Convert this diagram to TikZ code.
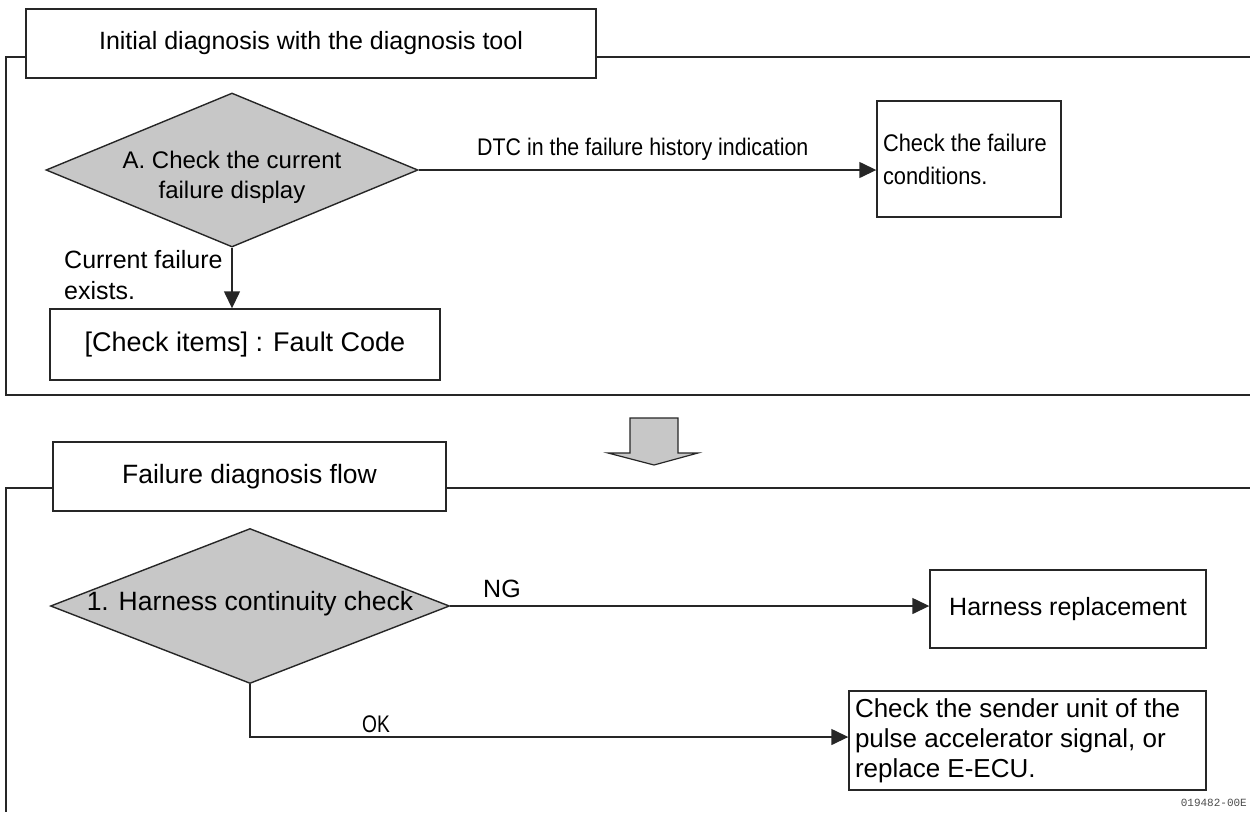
\documentclass[tikz,border=0pt]{standalone}
\usepackage{fontspec}
\setmainfont{Liberation Sans}
\newfontfamily\smallmono{Liberation Mono}
\usetikzlibrary{shapes.geometric,arrows.meta}
\begin{document}
\begin{tikzpicture}[x=1pt,y=-1pt,
  ln/.style={line width=1.4pt, draw=black!85},
  box/.style={draw=black!85, line width=1.4pt, fill=white, inner sep=0pt, font=\fontsize{25}{31}\selectfont},
  dec/.style={diamond, draw=black!85, line width=1.4pt, fill=black!22, inner sep=0pt, shape aspect=2.4},
  arr/.style={ln, -{Triangle[length=17pt,width=16pt]}},
  lbl/.style={inner sep=0pt, font=\fontsize{25}{31}\selectfont},
  sml/.style={inner sep=0pt, font=\fontsize{24}{28}\selectfont}]
\useasboundingbox (0,0) rectangle (1250,812);

% ---------- top section ----------
\node[box, minimum width=570pt, minimum height=69pt] (h1) at (311,43.5) {Initial diagnosis with the diagnosis tool};
\coordinate (f1a) at (6,57);
\coordinate (f1b) at (6,395);
\coordinate (f1c) at (1250,395);
\coordinate (f1d) at (1250,57);
\draw[ln] (h1.west |- f1a) -- (f1a) -- (f1b) -- (f1c);
\draw[ln] (h1.east |- f1a) -- (f1d);

\node[dec, minimum width=372pt, minimum height=154pt] (dA) at (232,170) {};
\node[lbl, align=center, font=\fontsize{24}{30}\selectfont] (dAt) at (232,177) {A. Check the current\\failure display};

\node[box, minimum width=184pt, minimum height=116pt, text width=172pt, align=flush left, font=\fontsize{24}{34}\selectfont] (cf) at (969,159) {\scalebox{0.91}[1]{Check the failure}\\[-1pt]\scalebox{0.91}[1]{conditions.}};
\draw[arr] (dA.east) -- (dA.east -| cf.west);
\node[lbl, anchor=base west, font=\fontsize{24}{28}\selectfont] (dtc) at (477,155) {\scalebox{0.89}[1]{DTC in the failure history indication}};

\node[box, minimum width=390pt, minimum height=71pt, font=\fontsize{27}{31}\selectfont] (fc) at (245,344.5) {[Check items] : Fault Code};
\draw[arr] (dA.south) -- (dA.south |- fc.north);
\node[lbl, align=left, anchor=west] (cur) at (64,275) {Current failure\\exists.};

% ---------- block arrow ----------
\draw[ln, line width=1.2pt, fill=black!22] (630,418) -- (678,418) -- (678,453) -- (698,453) -- (654,465) -- (608,453) -- (630,453) -- cycle;

% ---------- bottom section ----------
\node[box, minimum width=393pt, minimum height=69pt, font=\fontsize{26.5}{31}\selectfont] (h2) at (249.5,476.5) {Failure diagnosis flow};
\coordinate (f2a) at (6,488);
\coordinate (f2b) at (6,812);
\coordinate (f2d) at (1250,488);
\draw[ln] (h2.west |- f2a) -- (f2a) -- (f2b);
\draw[ln] (h2.east |- f2a) -- (f2d);

\node[dec, minimum width=399pt, minimum height=155pt, shape aspect=2.57] (d1) at (250,606) {};
\node[lbl, font=\fontsize{26.5}{31}\selectfont] (d1t) at (250,604) {1. Harness continuity check};

\node[box, minimum width=276pt, minimum height=78pt] (hr) at (1068,609) {Harness replacement};
\draw[arr] (d1.east) -- (d1.east -| hr.west);
\node[sml, anchor=base west, font=\fontsize{25}{28}\selectfont] (ng) at (483,597) {NG};

\node[box, minimum width=357pt, minimum height=99pt, text width=345pt, align=flush left, font=\fontsize{26}{30}\selectfont] (sd) at (1027.5,740.5) {Check the sender unit of the\\pulse accelerator signal, or\\replace E-ECU.};
\coordinate (okc) at (d1.south |- 0,737);
\draw[arr] (d1.south) -- (okc) -- (okc -| sd.west);
\node[sml, anchor=base west] (ok) at (362,732) {\scalebox{0.8}[1]{OK}};

\node[inner sep=0pt, anchor=east, font=\smallmono\fontsize{11}{13}\selectfont, text=black!70] (code) at (1247,803) {019482-00E};
\end{tikzpicture}
\end{document}
